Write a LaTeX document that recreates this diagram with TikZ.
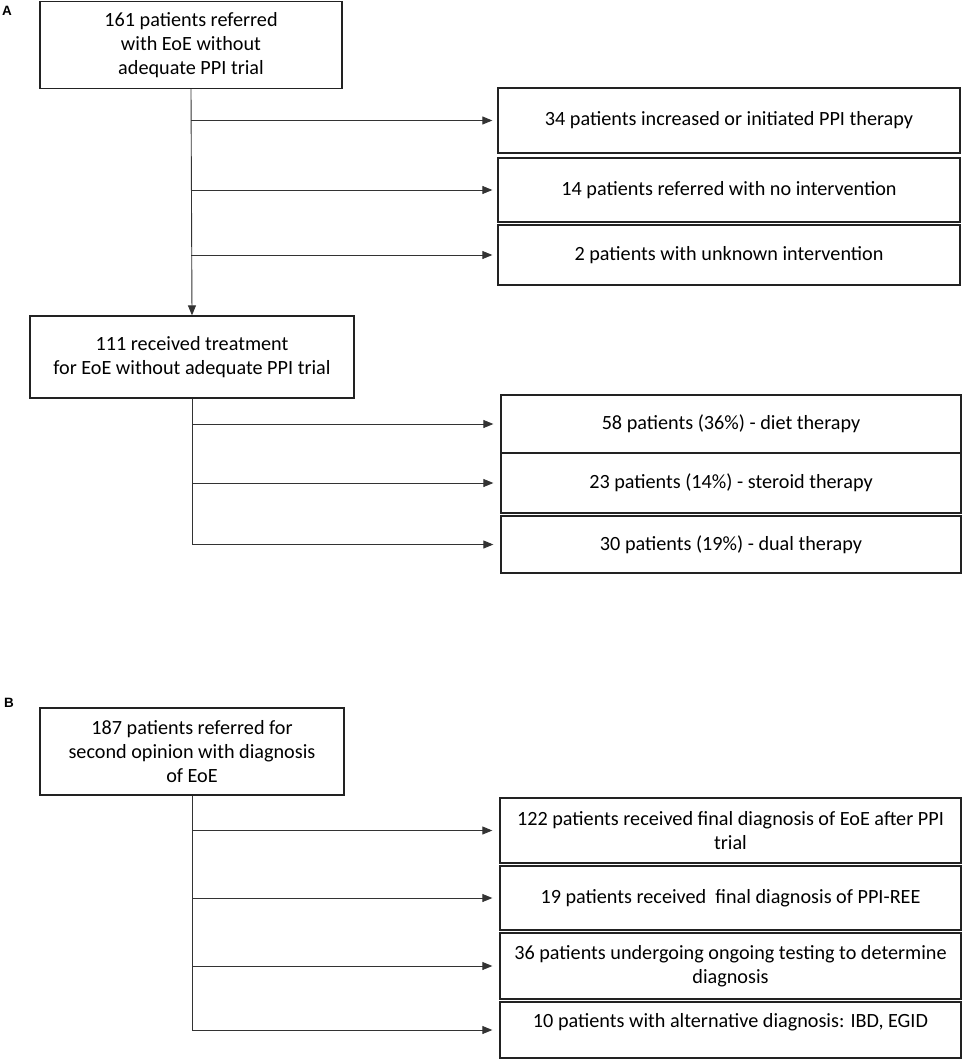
\documentclass[tikz,border=0pt]{standalone}
\usepackage{fontspec}
\setmainfont{Carlito}
\newfontfamily\labfont{Liberation Sans}
\usetikzlibrary{arrows.meta}
\definecolor{boxc}{HTML}{222222}
\definecolor{linec}{HTML}{333333}
\begin{document}
\begin{tikzpicture}[x=1pt,y=-1pt,
  bx/.style={draw=boxc, line width=1.3pt, inner sep=0pt, align=center,
    font=\fontsize{20.2}{24}\selectfont, text=black},
  txt/.style={inner sep=0pt, align=center, font=\fontsize{20.2}{24}\selectfont},
  ln/.style={draw=linec, line width=0.9pt},
  arr/.style={ln, -{Triangle[length=10pt,width=8pt]}},
  lab/.style={font=\labfont\bfseries\fontsize{13.5}{15}\selectfont}]
\useasboundingbox (0,0) rectangle (962,1060);
% Panel A
\node[lab] (labA) at (7,11) {A};
\node[bx, minimum width=302pt, minimum height=87pt] (a1) at (191,45)
  {161 patients referred\\with EoE without\\adequate PPI trial};
\node[bx, minimum width=462pt, minimum height=65pt] (ra1) at (729,120.5)
  {34 patients increased or initiated PPI therapy};
\node[bx, minimum width=462pt, minimum height=64pt] (ra2) at (729,190)
  {14 patients referred with no intervention};
\node[bx, minimum width=462pt, minimum height=60pt] (ra3) at (729,255)
  {2 patients with unknown intervention};
\node[bx, minimum width=324pt, minimum height=82pt] (a2) at (192,357)
  {111 received treatment\\for EoE without adequate PPI trial};
\node[bx, minimum width=460pt, minimum height=58pt] (ra4) at (731,424)
  {58 patients (36\%) - diet therapy};
\node[bx, minimum width=460pt, minimum height=60pt] (ra5) at (731,483)
  {23 patients (14\%) - steroid therapy};
\node[bx, minimum width=460pt, minimum height=57pt] (ra6) at (731,544.5)
  {30 patients (19\%) - dual therapy};
\draw[arr] (a1.south) -- (a2.north);
\foreach \n in {ra1,ra2,ra3}
  \draw[arr] (a1.south |- \n.west) -- ([xshift=-5pt]\n.west);
\draw[ln] (a2.south) -- (a2.south |- ra6.west);
\foreach \n in {ra4,ra5,ra6}
  \draw[arr] (a2.south |- \n.west) -- ([xshift=-7pt]\n.west);
% Panel B
\node[lab] (labB) at (9,703) {B};
\node[bx, minimum width=304pt, minimum height=87pt] (b1) at (192,751.5)
  {187 patients referred for\\second opinion with diagnosis\\of EoE};
\node[bx, minimum width=461pt, minimum height=65pt] (rb1) at (730.5,830.5)
  {122 patients received final diagnosis of EoE after PPI\\trial};
\node[bx, minimum width=461pt, minimum height=64pt] (rb2) at (730.5,898)
  {19 patients received \ final diagnosis of PPI-REE};
\node[bx, minimum width=461pt, minimum height=66pt] (rb3) at (730.5,966)
  {36 patients undergoing ongoing testing to determine\\diagnosis};
\node[bx, minimum width=461pt, minimum height=56pt] (rb4) at (730.5,1030) {};
\node[txt] (rb4t) at (730.5,1022) {10 patients with alternative diagnosis: IBD, EGID};
\draw[ln] (b1.south) -- (b1.south |- rb4.west);
\foreach \n in {rb1,rb2,rb3,rb4}
  \draw[arr] (b1.south |- \n.west) -- ([xshift=-7pt]\n.west);
\end{tikzpicture}
\end{document}
